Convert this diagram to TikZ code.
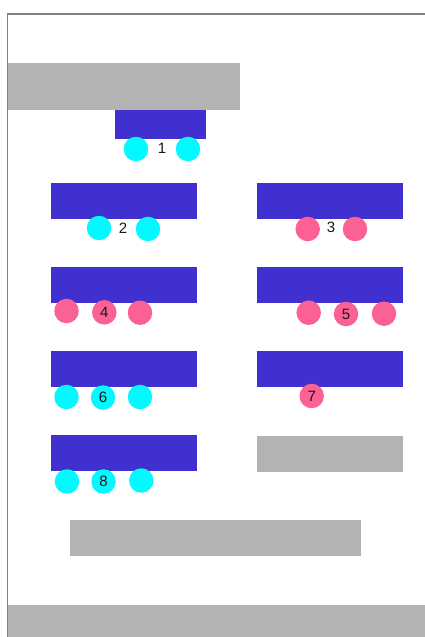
\documentclass[tikz,border=0pt]{standalone}
\usepackage{fontspec}
\setmainfont{Liberation Sans}
\definecolor{barblue}{HTML}{3F30CF}
\definecolor{wallgray}{HTML}{B3B3B3}
\definecolor{seatpink}{HTML}{FB6193}
\definecolor{seatcyan}{HTML}{00FAFF}
\definecolor{frameline}{HTML}{808080}
\tikzset{
  seat/.style={circle,minimum size=24.5pt,inner sep=0pt,draw=none,font=\fontsize{15}{15}\selectfont,text=black!90},
  cyanseat/.style={seat,fill=seatcyan},
  pinkseat/.style={seat,fill=seatpink},
  numlabel/.style={inner sep=0pt,font=\fontsize{15}{15}\selectfont,text=black!90}
}
\begin{document}
\begin{tikzpicture}[x=1pt,y=-1pt]
\useasboundingbox (0,0) rectangle (425,637);
\fill[white] (0,0) rectangle (425,637);
\draw[frameline,line width=1.5pt] (7.5,637) -- (7.5,14) -- (425,14);
% grey walls
\fill[wallgray] (7.5,63) rectangle (240,110.3);
\fill[wallgray] (257,435.5) rectangle (403,471.5);
\fill[wallgray] (70,520) rectangle (361,556);
\fill[wallgray] (7.5,605) rectangle (425,637);
% blue blocks
\fill[barblue] (115,110) rectangle (206,139.3);
\fill[barblue] (51,183) rectangle (197,219);
\fill[barblue] (257,183) rectangle (403,219);
\fill[barblue] (51,267) rectangle (197,303);
\fill[barblue] (257,267) rectangle (403,303);
\fill[barblue] (51,351) rectangle (197,387);
\fill[barblue] (257,351) rectangle (403,387);
\fill[barblue] (51,435) rectangle (197,471);
% row 1
\node[cyanseat] (c1a) at (136,149) {};
\node[cyanseat] (c1b) at (188,149) {};
\node[numlabel] (n1) at (162,148) {1};
% row 2
\node[cyanseat] (c2a) at (99,228) {};
\node[cyanseat] (c2b) at (148,229) {};
\node[numlabel] (n2) at (123,228) {2};
\node[pinkseat] (p3a) at (307.7,229) {};
\node[pinkseat] (p3b) at (355,229) {};
\node[numlabel] (n3) at (331,227.5) {3};
% row 3
\node[pinkseat] (p4a) at (66.5,311) {};
\node[pinkseat] (p4b) at (104.3,312.3) {4};
\node[pinkseat] (p4c) at (140,312.7) {};
\node[pinkseat] (p5a) at (308.7,312.7) {};
\node[pinkseat] (p5b) at (346,314) {5};
\node[pinkseat] (p5c) at (384,313.7) {};
% row 4
\node[cyanseat] (c6a) at (66.5,397) {};
\node[cyanseat] (c6b) at (103,397.5) {6};
\node[cyanseat] (c6c) at (140,397) {};
\node[pinkseat] (p7) at (311.7,396) {7};
% row 5
\node[cyanseat] (c8a) at (67,481.5) {};
\node[cyanseat] (c8b) at (103.5,481.5) {8};
\node[cyanseat] (c8c) at (141.3,480.5) {};
\end{tikzpicture}
\end{document}
